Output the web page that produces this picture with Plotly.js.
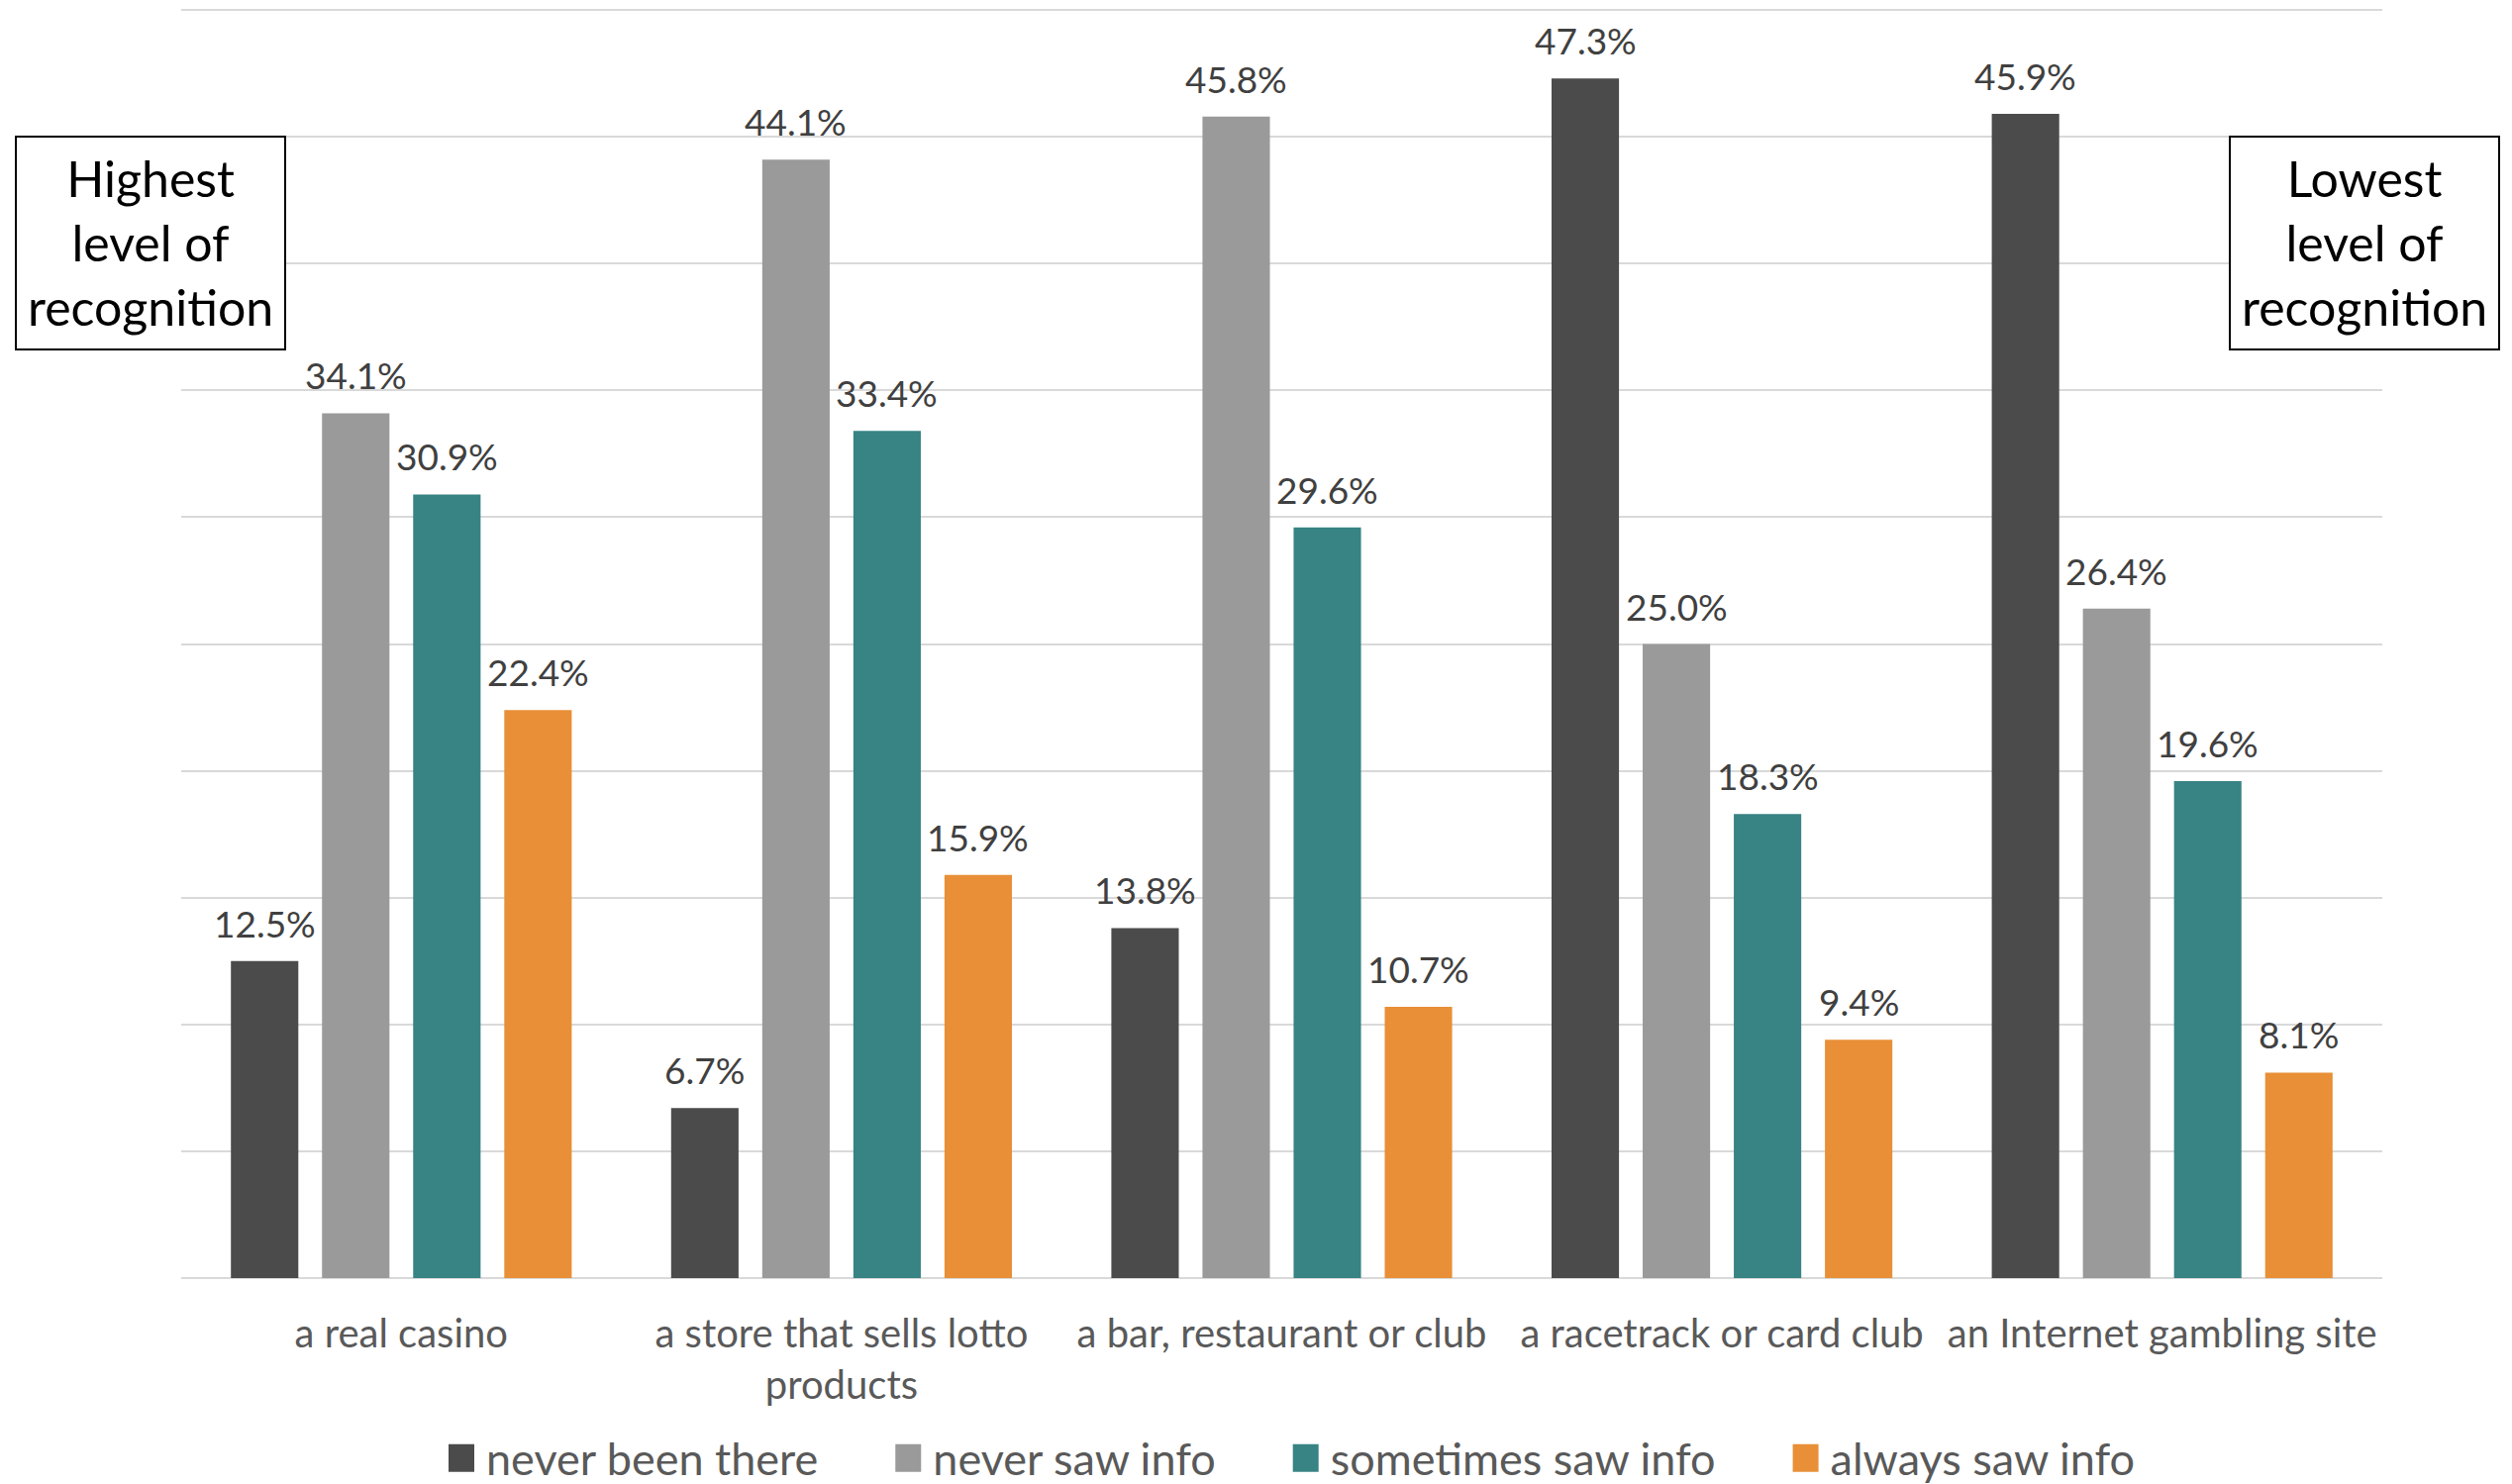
<!DOCTYPE html>
<html>
<head>
<meta charset="utf-8">
<script src="https://cdn.plot.ly/plotly-3.0.1.min.js"></script>
<style>
  html, body { margin: 0; padding: 0; background: #ffffff; }
  #chart { width: 2537px; height: 1499px; }
</style>
</head>
<body>
<div id="chart"></div>
<script>
// Venue categories (x axis)
const categories = [
  'a real casino',
  'a store that sells lotto<br>products',
  'a bar, restaurant or club',
  'a racetrack or card club',
  'an Internet gambling site'
];

// Series names (legend)
const seriesNames = ['never been there', 'never saw info', 'sometimes saw info', 'always saw info'];

// Percent of respondents per venue
const neverBeenThere   = [12.5, 6.7, 13.8, 47.3, 45.9];
const neverSawInfo     = [34.1, 44.1, 45.8, 25.0, 26.4];
const sometimesSawInfo = [30.9, 33.4, 29.6, 18.3, 19.6];
const alwaysSawInfo    = [22.4, 15.9, 10.7, 9.4, 8.1];

// Side notes
const leftNote  = 'Highest<br>level of<br>recognition';
const rightNote = 'Lowest<br>level of<br>recognition';

// ---- styling ----
const seriesValues = [neverBeenThere, neverSawInfo, sometimesSawInfo, alwaysSawInfo];
const palette = ['#4b4b4b', '#9a9a9a', '#388384', '#e88f37'];
const FONT = 'Lato, "Open Sans", sans-serif';

const W = 2537, H = 1499;
const M = { l: 183, r: 131, t: 7, b: 208, autoexpand: false };
const plotW = W - M.l - M.r;
const plotH = H - M.t - M.b;
const px2x = px => (px - M.l) / plotW;
const px2y = py => (H - M.b - py) / plotH;

const BARGAP = 0.172;
const GROUPGAP = 0.26;
const LEGEND_ITEMWIDTH = 101;

const traces = seriesValues.map((vals, j) => ({
  type: 'bar',
  name: seriesNames[j],
  x: categories,
  y: vals,
  marker: { color: palette[j], line: { width: 0 } },
  hoverinfo: 'x+y+name'
}));

// Value labels above each bar, positioned on the category axis through the group offsets
const groupWidth = 1 - BARGAP;
const slot = groupWidth / seriesValues.length;
const annotations = [];
seriesValues.forEach((vals, j) => {
  const off = -groupWidth / 2 + slot * (j + 0.5);
  vals.forEach((v, i) => {
    annotations.push({
      xref: 'x', yref: 'y',
      x: i + off, y: v,
      text: v.toFixed(1) + '%',
      showarrow: false,
      xanchor: 'center', yanchor: 'bottom',
      yshift: 14,
      font: { family: FONT, size: 37, color: '#404040' }
    });
  });
});

// Note boxes
const boxTop = 138, boxBottom = 353;
const leftBox = [16, 288], rightBox = [2252, 2524];
const shapes = [leftBox, rightBox].map(b => ({
  type: 'rect', xref: 'paper', yref: 'paper', layer: 'above',
  x0: px2x(b[0]), x1: px2x(b[1]),
  y0: px2y(boxBottom), y1: px2y(boxTop),
  fillcolor: '#ffffff',
  line: { color: '#000000', width: 2 }
}));
[[leftBox, leftNote], [rightBox, rightNote]].forEach(([b, txt]) => {
  annotations.push({
    xref: 'paper', yref: 'paper',
    x: px2x((b[0] + b[1]) / 2), y: px2y((boxTop + boxBottom) / 2),
    xanchor: 'center', yanchor: 'middle',
    text: txt, showarrow: false, align: 'center',
    font: { family: FONT, size: 50, color: '#000000' }
  });
});

const layout = {
  width: W, height: H,
  margin: M,
  paper_bgcolor: '#ffffff',
  plot_bgcolor: '#ffffff',
  barmode: 'group',
  bargap: BARGAP,
  bargroupgap: GROUPGAP,
  showlegend: true,
  legend: {
    orientation: 'h',
    x: px2x(380), xanchor: 'left',
    y: px2y(1437), yanchor: 'top',
    font: { family: FONT, size: 45, color: '#595959' },
    itemwidth: LEGEND_ITEMWIDTH,
    traceorder: 'normal'
  },
  xaxis: {
    type: 'category',
    showgrid: false,
    showline: false,
    zeroline: false,
    ticks: '',
    ticklabelstandoff: 29,
    tickfont: { family: FONT, size: 40, color: '#595959' },
    fixedrange: true
  },
  yaxis: {
    range: [0, 50.12],
    tick0: 0,
    dtick: 5,
    showticklabels: false,
    ticks: '',
    showgrid: true,
    gridcolor: '#d9d9d9',
    gridwidth: 2,
    zeroline: true,
    zerolinecolor: '#d9d9d9',
    zerolinewidth: 2,
    showline: false,
    fixedrange: true
  },
  shapes: shapes,
  annotations: annotations
};

Plotly.newPlot('chart', traces, layout, { displayModeBar: false, staticPlot: true }).then(() => {
  // Square swatches sitting just before each legend label
  const half = 13;
  const shift = 30.5;
  document.querySelectorAll('#chart .legend .legendpoints path').forEach(p => {
    const x0 = shift - half, x1 = shift + half;
    p.setAttribute('d', 'M' + x1 + ',14H' + x0 + 'V-14H' + x1 + 'Z');
  });
});
</script>
</body>
</html>
